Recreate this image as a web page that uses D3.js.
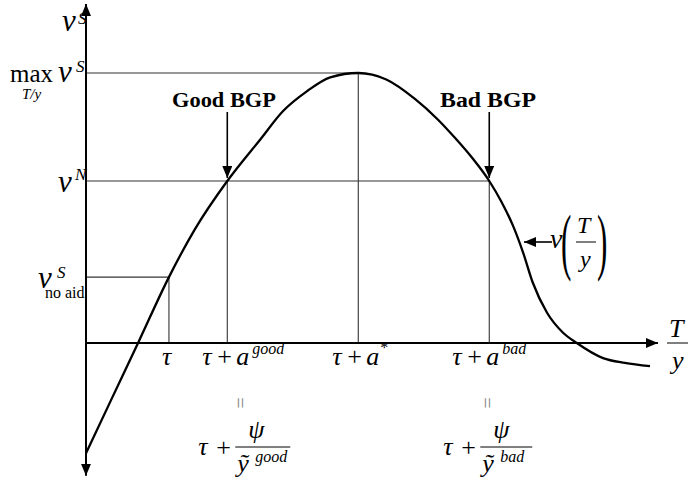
<!DOCTYPE html>
<html>
<head>
<meta charset="utf-8">
<script src="https://cdn.jsdelivr.net/npm/d3@7"></script>
<style>
  html, body { margin: 0; padding: 0; background: #fff; }
  svg { display: block; }
</style>
</head>
<body>
<svg id="chart" width="688" height="482" font-family="'Liberation Serif', 'Times New Roman', Times, 'DejaVu Serif', serif"></svg>
<script>
// Value function v(T/y): transfer-to-income ratio on x, welfare on y
const curveT = [0, 4.5, 9.1, 14.5, 19, 24.7, 30.4, 34.5, 38.6, 42.7, 47.6, 52.5, 57.5, 61.5, 64.5, 67.5, 70.5, 72.6, 74.7, 76.4, 78.1, 80.6, 83.4, 85.8, 90.4, 94.2, 98.6];
const curveV = [-20.4, -10.3, 0, 12.2, 21, 30, 37.6, 43, 46.6, 49.2, 50, 48.8, 45.2, 41.4, 38, 34.3, 30, 26.2, 21.6, 16.8, 11.2, 5.6, 1.9, 0, -2.8, -3.7, -4.3];

// Marked points on the horizontal axis
const tauX = 14.5;
const goodX = 24.7;
const starX = 47.6;
const badX = 70.5;

// Marked levels on the vertical axis
const vMax = 50;
const vN = 30;
const vNoAid = 12.2;

// Axis extents
const xAxisExtent = [0, 100];
const yAxisExtent = [-24.6, 62.8];

const FONT = "'Liberation Serif', 'Times New Roman', Times, serif";

const svg = d3.select("#chart");
const x = d3.scaleLinear().domain([0, 100]).range([86, 658]);
const y = d3.scaleLinear().domain([0, 50]).range([343, 73]);

// Arrowhead marker
const defs = svg.append("defs");
defs.append("marker")
  .attr("id", "head")
  .attr("viewBox", "0 0 12 10")
  .attr("refX", 12).attr("refY", 5)
  .attr("markerWidth", 12).attr("markerHeight", 10)
  .attr("markerUnits", "userSpaceOnUse")
  .attr("orient", "auto")
  .append("path").attr("d", "M0,0 L12,5 L0,10 Z").attr("fill", "#000");

const ref = svg.append("g").attr("stroke", "#333").attr("stroke-width", 1.1).attr("fill", "none");
// Guide lines to the axes
ref.append("line").attr("x1", x(0)).attr("x2", x(starX)).attr("y1", y(vMax)).attr("y2", y(vMax));
ref.append("line").attr("x1", x(starX)).attr("x2", x(starX)).attr("y1", y(vMax)).attr("y2", y(0));
ref.append("line").attr("x1", x(0)).attr("x2", x(badX)).attr("y1", y(vN)).attr("y2", y(vN));
ref.append("line").attr("x1", x(goodX)).attr("x2", x(goodX)).attr("y1", y(vN)).attr("y2", y(0));
ref.append("line").attr("x1", x(badX)).attr("x2", x(badX)).attr("y1", y(vN)).attr("y2", y(0));
ref.append("line").attr("x1", x(0)).attr("x2", x(tauX)).attr("y1", y(vNoAid)).attr("y2", y(vNoAid));
ref.append("line").attr("x1", x(tauX)).attr("x2", x(tauX)).attr("y1", y(vNoAid)).attr("y2", y(0));

// Axes
const axes = svg.append("g").attr("stroke", "#000").attr("stroke-width", 2);
axes.append("line")
  .attr("x1", x(0)).attr("x2", x(0))
  .attr("y1", y(0)).attr("y2", y(yAxisExtent[1]))
  .attr("marker-end", "url(#head)");
axes.append("line")
  .attr("x1", x(0)).attr("x2", x(0))
  .attr("y1", y(0)).attr("y2", y(yAxisExtent[0]))
  .attr("marker-end", "url(#head)");
axes.append("line")
  .attr("x1", x(xAxisExtent[0])).attr("x2", x(xAxisExtent[1]))
  .attr("y1", y(0)).attr("y2", y(0))
  .attr("marker-end", "url(#head)");

// The curve
const line = d3.line()
  .x((d, i) => x(curveT[i]))
  .y((d, i) => y(curveV[i]))
  .curve(d3.curveMonotoneX);
svg.append("path")
  .datum(curveT)
  .attr("d", line)
  .attr("fill", "none")
  .attr("stroke", "#000")
  .attr("stroke-width", 2.3);

// Text helper: each part is [text, x, y, size, italic]
function label(parts, opts = {}) {
  const g = svg.append("g");
  parts.forEach(p => {
    g.append("text")
      .attr("x", p[1]).attr("y", p[2])
      .attr("font-family", FONT)
      .attr("font-size", p[3])
      .attr("font-style", p[4] ? "italic" : "normal")
      .attr("fill", opts.fill || "#000")
      .text(p[0]);
  });
  return g;
}

// Vertical axis labels
const x0 = x(0);
label([["v", x0 - 24, 31, 31, true], ["S", x0 - 8, 24, 17, true]]);
label([["max", 10, y(vMax) + 9, 25, false], ["v", x0 - 28, y(vMax) + 9, 31, true],
       ["S", x0 - 10, y(vMax) - 1, 17, true], ["T/y", 22, y(vMax) + 26, 15, true]]);
label([["v", x0 - 28, y(vN) + 11, 31, true], ["N", x0 - 11, y(vN) - 1, 17, true]]);
label([["v", x0 - 48, y(vNoAid) + 11, 31, true], ["S", x0 - 29, y(vNoAid) + 1, 17, true],
       ["no aid", x0 - 41, y(vNoAid) + 21, 16, false]]);

// Horizontal axis labels
const bl = y(0) + 22;
label([["τ", x(tauX) - 7, bl, 26, true]]);
label([["τ", x(goodX) - 25, bl, 26, true], ["+", x(goodX) - 10, bl, 26, false],
       ["a", x(goodX) + 9, bl, 26, true], ["good", x(goodX) + 25, bl - 11, 16, true]]);
label([["τ", x(starX) - 26, bl, 26, true], ["+", x(starX) - 11, bl, 26, false],
       ["a", x(starX) + 8, bl, 26, true], ["*", x(starX) + 22, bl - 12, 16, false]]);
label([["τ", x(badX) - 37, bl, 26, true], ["+", x(badX) - 22, bl, 26, false],
       ["a", x(badX) - 3, bl, 26, true], ["bad", x(badX) + 13, bl - 11, 16, true]]);

// Rotated equals signs linking the two expressions
[[goodX, 13], [badX, -2]].forEach(([v, dx]) => {
  const cx = x(v) + dx, cy = 403;
  svg.append("text")
    .attr("x", cx).attr("y", cy)
    .attr("font-family", FONT)
    .attr("font-size", 20)
    .attr("text-anchor", "middle")
    .attr("dominant-baseline", "central")
    .attr("fill", "#888")
    .attr("transform", `rotate(90 ${cx} ${cy})`)
    .text("=");
});

// Fraction forms of the two BGP levels
function fracLabel(cx, sup) {
  const left = cx;
  label([["τ", left - 29, 455, 26, true], ["+", left - 11, 456, 26, false],
         ["ψ", left + 21, 438, 26, true], ["ỹ", left + 10, 472, 26, true],
         [sup, left + 28, 462, 16, true]]);
  svg.append("line")
    .attr("x1", left + 8).attr("x2", left + 8 + (sup === "good" ? 55 : 52))
    .attr("y1", 447).attr("y2", 447)
    .attr("stroke", "#000").attr("stroke-width", 1);
}
fracLabel(x(goodX), "good");
fracLabel(x(badX) - 17, "bad");

// T/y at the end of the horizontal axis
label([["T", 669, 337, 26, true], ["y", 672, 369, 26, true]]);
svg.append("line").attr("x1", 667).attr("x2", 688).attr("y1", 343).attr("y2", 343)
  .attr("stroke", "#000").attr("stroke-width", 1);

// BGP callouts
[["Good BGP", goodX, 172, 104], ["Bad BGP", badX, 440, 96]].forEach(([t, v, tx, w]) => {
  svg.append("text")
    .attr("x", tx).attr("y", 107)
    .attr("font-family", FONT)
    .attr("font-size", 21).attr("font-weight", "bold")
    .attr("textLength", w).attr("lengthAdjust", "spacingAndGlyphs")
    .text(t);
  svg.append("line")
    .attr("x1", x(v)).attr("x2", x(v))
    .attr("y1", 112).attr("y2", y(vN) - 3)
    .attr("stroke", "#000").attr("stroke-width", 1.6)
    .attr("marker-end", "url(#head)");
});

// Curve label v(T/y) with pointer
svg.append("line")
  .attr("x1", 552).attr("x2", 524).attr("y1", 242).attr("y2", 242)
  .attr("stroke", "#000").attr("stroke-width", 1.6)
  .attr("marker-end", "url(#head)");
label([["v", 550, 248, 28, true], ["T", 577, 233, 24, true], ["y", 580, 267, 24, true]]);
svg.append("line").attr("x1", 576).attr("x2", 596).attr("y1", 242).attr("y2", 242)
  .attr("stroke", "#000").attr("stroke-width", 1);
[["(", 561], [")", 597]].forEach(([t, px]) => {
  svg.append("text")
    .attr("font-family", FONT)
    .attr("font-size", 74)
    .attr("transform", `translate(${px},266) scale(0.42,1)`)
    .text(t);
});
</script>
</body>
</html>
